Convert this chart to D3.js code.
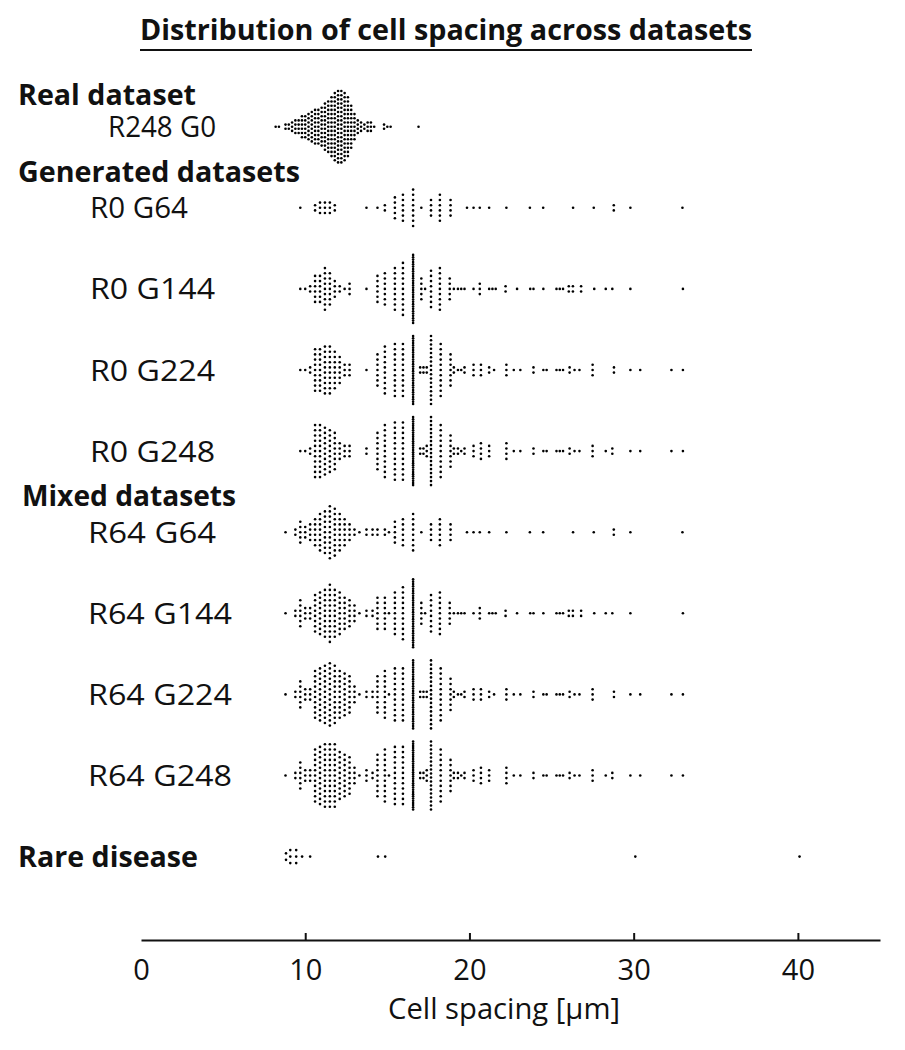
<!DOCTYPE html>
<html><head><meta charset="utf-8">
<script src="https://cdn.jsdelivr.net/npm/d3@7"></script>
<style>
html,body{margin:0;padding:0;background:#fff}
svg{display:block}
text{font-family:"Open Sans",sans-serif;fill:#111}
</style>
</head><body>
<svg id="chart" width="905" height="1050"></svg>
<script>
// ---------- DATA (value, count) ----------
const rowNames = ["R248 G0","R0 G64","R0 G144","R0 G224","R0 G248","R64 G64","R64 G144","R64 G224","R64 G248","Rare disease"];
const sectionLabels = ["Real dataset","Generated datasets","Mixed datasets","Rare disease"];
const tickValues = [0,10,20,30,40];
const titleText = "Distribution of cell spacing across datasets";
const axisTitle = "Cell spacing [µm]";

const realR248G0 = [[8.2,1],[8.4,1],[8.8,2],[9.0,2],[9.2,3],[9.4,4],[9.6,4],[9.8,6],[10.0,6],[10.2,7],[10.4,8],[10.6,9],[10.8,9],[11.0,10],[11.2,12],[11.4,13],[11.6,15],[11.8,17],[12.0,18],[12.2,18],[12.4,17],[12.6,15],[12.8,11],[13.0,7],[13.2,4],[13.4,3],[13.6,2],[13.8,3],[14.0,3],[14.2,1],[14.8,2],[15.0,1],[15.2,1],[16.9,1]];

const blobR0G64  = [[9.7,1],[10.6,2],[10.9,3],[11.2,3],[11.5,3],[11.8,2]];
const blobR0G144 = [[9.7,1],[10.0,1],[10.3,2],[10.6,6],[10.9,6],[11.2,9],[11.5,7],[11.8,4],[12.1,2],[12.4,1],[12.7,3]];
const blobR0G224 = [[9.7,1],[10.0,1],[10.3,2],[10.6,9],[10.9,9],[11.2,10],[11.5,10],[11.8,8],[12.1,6],[12.4,3],[12.7,3]];
const blobR0G248 = [[9.7,1],[10.0,1],[10.3,2],[10.6,11],[10.9,11],[11.2,10],[11.5,9],[11.8,8],[12.1,4],[12.4,3],[12.7,3]];

const tailG64  = [[13.73,1],[14.4,1],[14.85,2],[15.46,5],[15.95,6],[16.57,8],[17.07,1],[17.66,4],[18.2,6],[18.85,4],[19.85,1],[20.25,1],[20.63,1],[21.2,1],[22.25,1],[23.68,1],[24.49,1],[26.31,1],[27.57,1],[28.79,2],[29.8,1],[32.97,1]];
const tailG144 = [[13.73,1],[14.4,6],[14.85,7],[15.46,9],[15.95,11],[16.57,30],[17.07,5],[17.3,1],[17.66,8],[18.2,9],[18.8,5],[19.05,1],[19.3,1],[19.5,1],[19.7,1],[20.25,1],[20.63,3],[21.2,1],[21.4,1],[21.6,1],[22.2,2],[22.9,1],[23.7,1],[23.9,1],[24.5,1],[25.3,1],[25.5,1],[25.7,1],[26.05,2],[26.3,2],[26.8,2],[27.6,1],[28.3,1],[28.7,1],[29.8,1],[33.0,1]];
const tailG224 = [[13.73,1],[14.4,7],[14.85,10],[15.46,11],[15.95,11],[16.57,30],[17.0,2],[17.2,2],[17.4,2],[17.66,17],[18.25,11],[18.85,7],[19.05,2],[19.3,1],[19.5,1],[19.7,2],[20.25,3],[20.7,3],[21.2,2],[21.5,1],[22.25,3],[22.7,1],[23.1,1],[23.9,2],[24.5,1],[24.7,1],[25.3,1],[25.5,1],[25.7,1],[26.1,2],[26.4,1],[26.7,1],[27.5,3],[28.8,2],[29.8,1],[30.4,1],[32.3,1],[33.0,1]];
const tailG248 = [[13.73,2],[14.4,8],[14.85,11],[15.46,12],[15.95,12],[16.57,32],[17.0,2],[17.2,2],[17.4,3],[17.66,18],[18.25,11],[18.85,7],[19.05,2],[19.3,2],[19.5,1],[19.7,2],[20.25,3],[20.7,4],[21.2,3],[22.25,4],[22.7,1],[23.1,1],[23.9,2],[24.5,1],[24.7,1],[25.3,1],[25.5,1],[25.7,1],[26.1,2],[26.4,1],[26.7,1],[27.5,3],[28.3,1],[28.7,2],[29.8,1],[30.4,1],[32.3,1],[33.0,1]];

const blobR64G64  = [[8.8,1],[9.4,2],[9.7,5],[10.0,3],[10.3,4],[10.6,6],[10.9,8],[11.2,9],[11.5,11],[11.8,10],[12.1,8],[12.4,6],[12.7,4],[13.0,2],[13.3,1]];
const blobR64G144 = [[8.8,1],[9.4,2],[9.7,6],[10.0,3],[10.3,3],[10.6,8],[10.9,9],[11.2,10],[11.5,12],[11.8,10],[12.1,9],[12.4,7],[12.7,6],[13.0,4],[13.3,1]];
const blobR64G224 = [[8.8,1],[9.4,2],[9.7,6],[10.0,3],[10.3,3],[10.6,10],[10.9,11],[11.2,12],[11.5,13],[11.8,12],[12.1,10],[12.4,9],[12.7,8],[13.0,4],[13.3,1]];
const blobR64G248 = [[8.8,1],[9.4,2],[9.7,6],[10.0,3],[10.3,3],[10.6,11],[10.9,12],[11.2,13],[11.5,13],[11.8,13],[12.1,10],[12.4,9],[12.7,8],[13.0,4],[13.3,1]];
const tailR64 = [[13.73,1],[14.1,2],[14.4,1],[15.1,1]];

const rareDisease = [[8.83,2],[9.09,3],[9.45,3],[9.81,1],[10.3,1],[14.43,1],[14.87,1],[30.1,1],[40.1,1]];

// ---------- rows ----------
const rowData = new Map([
  ["R248 G0", realR248G0],
  ["R0 G64", blobR0G64.concat(tailG64)],
  ["R0 G144", blobR0G144.concat(tailG144)],
  ["R0 G224", blobR0G224.concat(tailG224)],
  ["R0 G248", blobR0G248.concat(tailG248)],
  ["R64 G64", blobR64G64.concat(tailR64, tailG64)],
  ["R64 G144", blobR64G144.concat(tailR64, tailG144)],
  ["R64 G224", blobR64G224.concat(tailR64, tailG224)],
  ["R64 G248", blobR64G248.concat(tailR64, tailG248)],
  ["Rare disease", rareDisease]
]);

// layout style per row (spacing, half height)
const rowStyle = name => name === "R248 G0" ? {s:4.2, H:37} : (name === "Rare disease" ? {s:6.5, H:34} : {s:5.2, H:34});

function stack(pairs, s, H) {
  const m = new Map();
  pairs.forEach(([v, n]) => m.set(v, (m.get(v) || 0) + n));
  const pts = [];
  for (const [v, n] of m) {
    const step = n > 1 ? Math.min(s, 2 * H / (n - 1)) : 0;
    for (let i = 0; i < n; i++) pts.push({v, dy: (i - (n - 1) / 2) * step});
  }
  return pts;
}

// ---------- drawing ----------
const svg = d3.select("#chart");
const x = d3.scaleLinear().domain([0, 45]).range([141, 880]);
const y = d3.scalePoint().domain(rowNames).range([126.7, 856.6]);

// title
svg.append("text").attr("x", 140).attr("y", 40)
  .attr("font-size", 29).attr("font-weight", 700)
  .attr("textLength", 612).attr("lengthAdjust", "spacingAndGlyphs")
  .text(titleText);
svg.append("line").attr("x1", 140).attr("x2", 752).attr("y1", 50).attr("y2", 50)
  .attr("stroke", "#111").attr("stroke-width", 2);

// section labels
const secPos = [
  {x: 18, y: 105, w: 178},
  {x: 18, y: 182, w: 282},
  {x: 22, y: 506, w: 214},
  {x: 18, y: 867, w: 180}
];
sectionLabels.forEach((t, i) => {
  svg.append("text").attr("x", secPos[i].x).attr("y", secPos[i].y)
    .attr("font-size", 29).attr("font-weight", 700)
    .attr("textLength", secPos[i].w).attr("lengthAdjust", "spacingAndGlyphs")
    .text(t);
});

// row labels (all except Rare disease which is a section heading)
const rowLabelPos = {
  "R248 G0": [108, 108], "R0 G64": [90, 98], "R0 G144": [90, 125], "R0 G224": [90, 125], "R0 G248": [90, 125],
  "R64 G64": [88, 128], "R64 G144": [88, 144], "R64 G224": [88, 144], "R64 G248": [88, 144]
};
rowNames.filter(n => rowLabelPos[n]).forEach(n => {
  svg.append("text").attr("x", rowLabelPos[n][0]).attr("y", y(n) + 10.5)
    .attr("font-size", 29)
    .attr("textLength", rowLabelPos[n][1]).attr("lengthAdjust", "spacingAndGlyphs")
    .text(n);
});

// dots
rowNames.forEach(n => {
  const st = rowStyle(n);
  const pts = stack(rowData.get(n), st.s, st.H);
  svg.append("g").selectAll("circle").data(pts).join("circle")
    .attr("cx", d => x(d.v))
    .attr("cy", d => y(n) + d.dy)
    .attr("r", 1.3)
    .attr("fill", "#000");
});

// axis
const axis = d3.axisBottom(x).tickValues(tickValues).tickSizeInner(-7).tickSizeOuter(0).tickPadding(19);
const gx = svg.append("g").attr("transform", "translate(0,940)").call(axis)
  .attr("font-size", 29).attr("font-family", '"Open Sans", sans-serif');
gx.select(".domain").attr("stroke", "#111").attr("stroke-width", 2);
gx.selectAll(".tick line").attr("stroke", "#111").attr("stroke-width", 2).filter(d => d === 0).remove();
gx.selectAll(".tick text").attr("fill", "#111");

svg.append("text").attr("x", 388).attr("y", 1019)
  .attr("font-size", 29)
  .attr("textLength", 232).attr("lengthAdjust", "spacingAndGlyphs")
  .text(axisTitle);
</script>
</body></html>
